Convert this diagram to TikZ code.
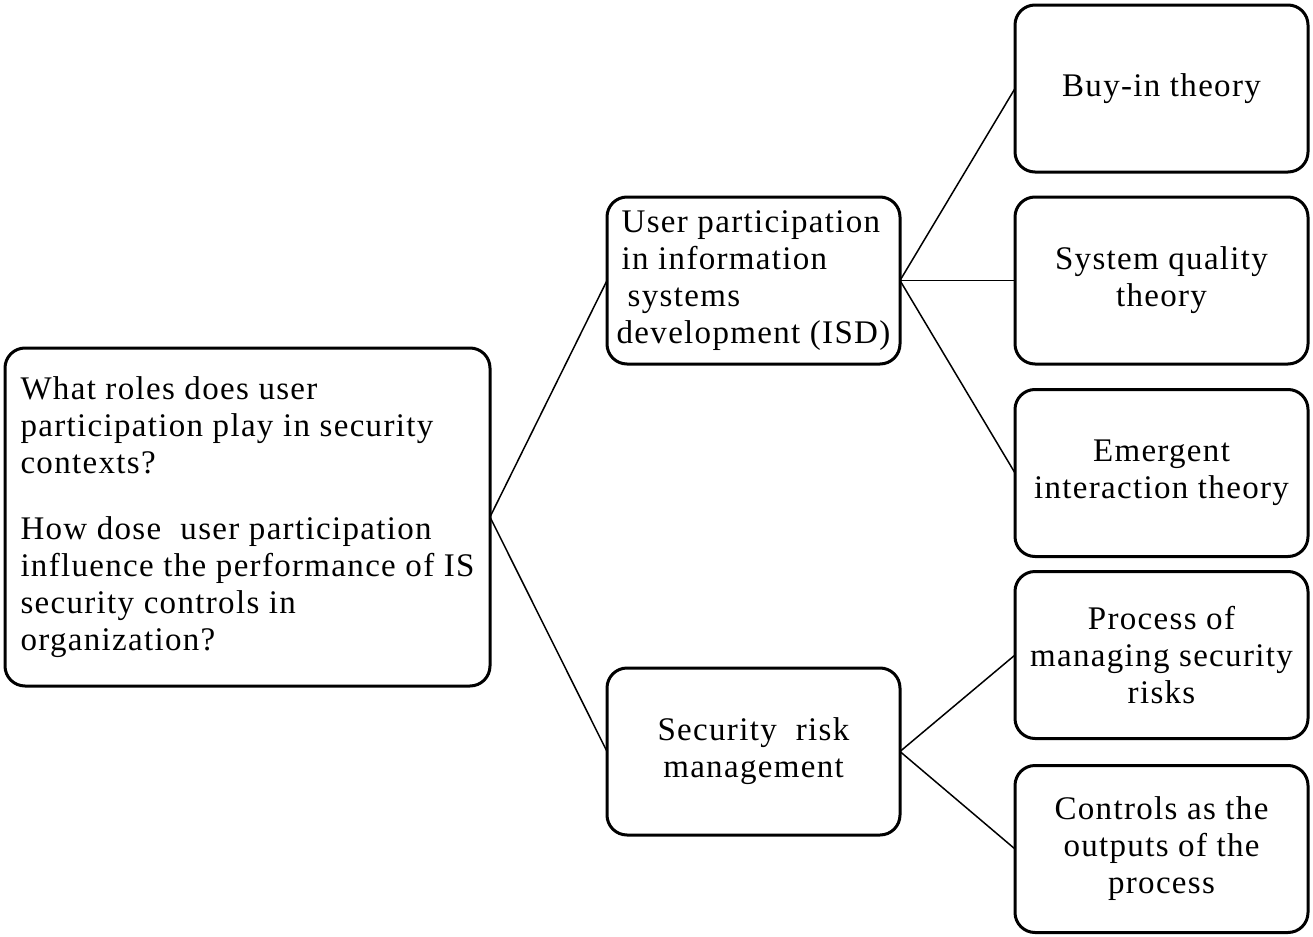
\documentclass[tikz,border=0pt]{standalone}
\usepackage{fontspec}
\setmainfont{Liberation Serif}[LetterSpace=4]
\usepackage{tikz}
\usepackage{xcolor}

\begin{document}
\begin{tikzpicture}[x=0.5pt,y=-0.5pt,
		box/.style={draw,rectangle,rounded corners=10pt,line width=1.5pt,outer sep=0pt,inner sep=0pt,minimum width=146.5pt,minimum height=83.5pt,font=\fontsize{16.5}{18.5}\selectfont},
		link/.style={line width=0.75pt}]
				\useasboundingbox (0,0) rectangle (1313,937);
				\node[box,minimum width=242.5pt,minimum height=169pt,align=left] (question) at (247.5,517) {What roles does user\\participation play in security\\contexts?\\[14.5pt]How dose\ \ user participation\\influence the performance of IS\\security controls in\\organization?};
				\node[box,align=left] (isd) at (753.5,280.5) {\hspace*{2.5pt}User participation\\\hspace*{2.5pt}in information\\\hspace*{5.5pt}systems\\development (ISD)};
				\node[box,align=center] (srm) at (753.5,751.5) {Security\ \ risk\\management};
				\node[box,align=center] (buyin) at (1161.5,88.5) {Buy-in theory};
				\node[box,align=center] (quality) at (1161.5,280.5) {System quality\\theory};
				\node[box,align=center] (emergent) at (1161.5,473) {Emergent\\interaction theory};
				\node[box,align=center] (process) at (1161.5,655) {Process of\\managing security\\risks};
				\node[box,align=center] (controls) at (1161.5,849) {Controls as the\\outputs of the\\process};
				\draw[link] (question.east) -- (isd.west);
				\draw[link] (question.east) -- (srm.west);
				\draw[link] (isd.east) -- (buyin.west);
				\draw[link] (isd.east) -- (quality.west);
				\draw[link] (isd.east) -- (emergent.west);
				\draw[link] (srm.east) -- (process.west);
				\draw[link] (srm.east) -- (controls.west);
			\end{tikzpicture}
\end{document}
